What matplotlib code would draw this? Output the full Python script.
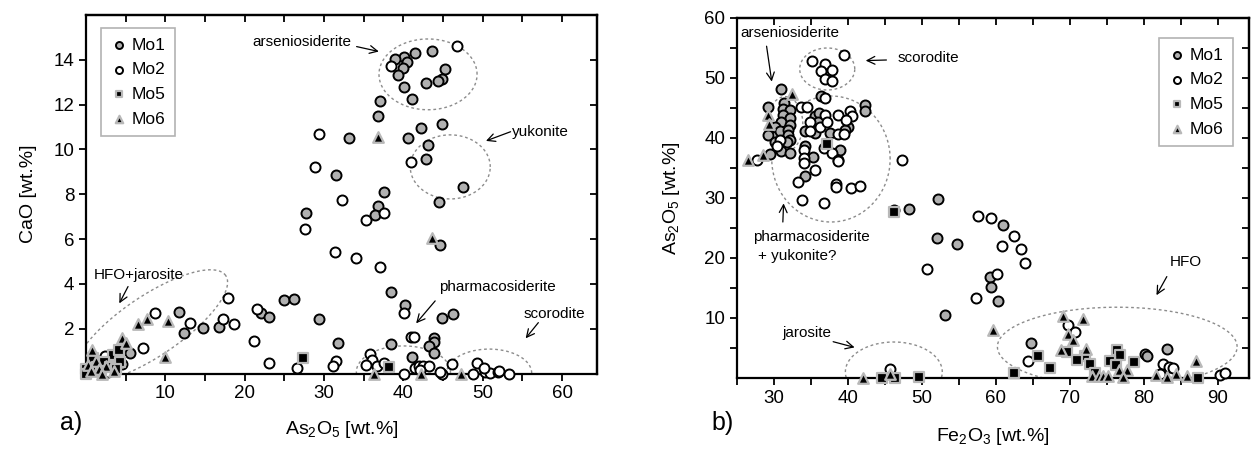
import numpy as np
import matplotlib.pyplot as plt
from matplotlib.ticker import MultipleLocator, FixedLocator

plt.rcParams['font.family'] = ['Liberation Sans', 'DejaVu Sans']
plt.rcParams['mathtext.fontset'] = 'custom'
plt.rcParams['mathtext.rm'] = 'Liberation Sans'
plt.rcParams['mathtext.it'] = 'Liberation Sans:italic'

#######################################################################################
# DATA  (a) CaO vs As2O5, (b) As2O5 vs Fe2O3, wt.%
#######################################################################################
a_mo1_x = [43.6, 41.5, 40.1, 38.9, 40.5, 39.9, 45.3, 39.3, 44.8, 44.4, 42.8, 40.1, 41.1, 37.1,
           36.8, 33.1, 40.6, 42.2, 44.8, 43.1, 42.8, 31.5, 47.5, 44.5, 37.5, 36.8, 36.4, 27.7,
           11.7, 12.4, 14.7, 16.7, 22.1, 23.1, 25.0, 26.2, 29.3, 31.7, 5.5, 44.6, 38.4, 40.2,
           44.9, 46.3, 43.8, 43.9, 43.2, 43.8, 38.4, 41.1, 0.3]
a_mo1_y = [14.41, 14.29, 14.14, 14.04, 13.89, 13.65, 13.58, 13.33, 13.13, 13.06, 12.96, 12.79,
           12.24, 12.18, 11.50, 10.51, 10.53, 10.97, 11.13, 10.19, 9.56, 8.86, 8.31, 7.66, 8.12,
           7.49, 7.08, 7.15, 2.76, 1.79, 2.04, 2.09, 2.69, 2.51, 3.28, 3.33, 2.45, 1.37, 0.90,
           5.74, 3.65, 3.06, 2.46, 2.66, 1.57, 1.42, 1.23, 0.90, 1.32, 0.75, 0.05]

a_mo2_x = [46.7, 38.4, 29.4, 28.8, 40.9, 32.2, 37.6, 35.3, 27.6, 31.4, 34.0, 8.7, 17.9, 13.1,
           17.3, 18.7, 21.5, 21.2, 23.1, 31.5, 31.1, 26.6, 7.2, 37.1, 40.1, 40.9, 41.3, 35.8,
           36.0, 35.3, 36.7, 37.6, 40.1, 44.8, 48.8, 50.3, 50.9, 51.9, 52.1, 53.3, 49.3, 50.2,
           46.1, 41.5, 41.9, 42.5, 43.2, 42.1, 44.6, 2.4, 4.6, 1.8, 2.8, 3.6]
a_mo2_y = [14.62, 13.73, 10.71, 9.23, 9.46, 7.75, 7.18, 6.85, 6.44, 5.41, 5.14, 2.71, 3.38, 2.24,
           2.45, 2.21, 2.87, 1.46, 0.48, 0.54, 0.33, 0.23, 1.12, 4.74, 2.71, 1.62, 1.62, 0.86,
           0.60, 0.38, 0.33, 0.48, 0.00, 0.00, 0.00, 0.07, 0.02, 0.08, 0.12, 0.00, 0.48, 0.26,
           0.41, 0.26, 0.35, 0.35, 0.35, 0.16, 0.08, 0.78, 0.42, 0.15, 0.05, 0.60]

a_mo5_x = [27.3, 38.2, 3.4, 4.1, 4.3, 0.9, 1.4, 2.3, 3.0, 0.0, 0.0, 3.8, 1.9]
a_mo5_y = [0.68, 0.30, 0.83, 1.05, 0.53, 0.68, 0.30, 0.50, 0.30, 0.20, 0.00, 0.20, 0.10]

a_mo6_x = [36.8, 43.6, 6.5, 7.7, 10.3, 10.0, 4.6, 5.1, 0.8, 36.3, 42.2, 47.2, 0.3, 1.2, 1.7,
           2.5, 3.5, 0.6, 2.0]
a_mo6_y = [10.57, 6.04, 2.21, 2.43, 2.34, 0.75, 1.57, 1.38, 1.05, 0.0, 0.0, 0.0, 0.40, 0.55,
           0.20, 0.35, 0.10, 0.10, 0.0]

b_mo1_x = [30.9, 36.4, 29.2, 31.3, 31.2, 32.2, 42.3, 42.3, 31.2, 32.2, 35.5, 36.1, 35.9, 31.0,
           32.2, 40.0, 39.6, 30.1, 29.2, 30.8, 31.9, 31.9, 32.1, 34.2, 35.5, 37.6, 30.1, 31.7,
           34.2, 38.9, 31.0, 32.2, 35.3, 29.4, 34.2, 48.2, 52.2, 60.9, 59.2, 59.4, 60.3, 52.0,
           54.7, 53.1, 64.8, 80.1, 80.4, 83.1]
b_mo1_y = [48.1, 47.0, 45.2, 45.8, 44.9, 44.7, 45.5, 44.5, 43.8, 43.3, 43.7, 44.2, 42.7, 42.7,
           42.2, 41.9, 41.3, 41.9, 40.5, 41.1, 41.3, 40.5, 39.7, 41.2, 40.8, 40.9, 39.4, 39.4,
           38.7, 38.0, 37.9, 37.5, 36.8, 37.3, 33.6, 28.1, 29.8, 25.5, 16.9, 15.1, 12.8, 23.3,
           22.3, 10.5, 5.9, 3.95, 3.7, 4.8]

b_mo2_x = [39.5, 35.1, 36.9, 37.9, 36.3, 36.9, 37.9, 36.9, 33.7, 34.4, 36.9, 38.7, 40.3, 40.5,
           34.9, 36.2, 37.1, 39.8, 34.9, 38.7, 39.4, 30.8, 34.0, 36.7, 37.8, 30.4, 34.0, 38.6,
           27.7, 47.3, 34.0, 38.7, 35.5, 33.3, 38.4, 38.4, 40.4, 41.6, 33.8, 36.8, 46.2, 57.6,
           59.4, 62.4, 60.8, 63.4, 63.9, 60.1, 57.3, 50.7, 64.3, 69.8, 70.7, 82.6, 83.4, 83.9,
           82.2, 90.3, 91.0, 45.7]
b_mo2_y = [53.9, 52.8, 52.4, 51.4, 51.2, 49.8, 49.5, 46.6, 45.2, 45.2, 43.8, 43.8, 44.5, 43.7,
           42.6, 41.9, 42.6, 43.0, 41.2, 40.7, 40.7, 39.7, 38.0, 38.4, 37.5, 38.6, 36.6, 36.4,
           36.4, 36.3, 35.8, 36.1, 34.6, 32.6, 32.3, 31.9, 31.7, 32.0, 29.7, 29.2, 28.0, 27.0,
           26.6, 23.6, 22.0, 21.5, 19.1, 17.4, 13.3, 18.1, 2.8, 8.8, 7.6, 2.4, 1.9, 1.6,
           0.7, 0.5, 0.8, 1.45]

b_mo5_x = [37.2, 46.2, 65.7, 67.3, 62.4, 69.6, 72.0, 70.9, 72.7, 73.4, 76.3, 76.8, 75.4, 76.2,
           78.6, 87.3, 44.6, 46.4, 49.6]
b_mo5_y = [39.0, 27.7, 3.7, 1.7, 0.9, 4.4, 3.7, 3.0, 2.4, 0.9, 4.7, 3.8, 2.8, 2.2,
           2.6, 0.05, 0.05, 0.05, 0.2]

b_mo6_x = [32.4, 29.2, 29.3, 28.5, 26.5, 59.6, 69.0, 71.8, 69.8, 70.4, 68.8, 72.2, 73.0, 73.9,
           74.5, 75.2, 76.7, 77.7, 77.2, 81.7, 83.1, 84.4, 85.8, 87.0, 42.0, 45.7]
b_mo6_y = [47.4, 43.8, 42.4, 37.2, 36.4, 8.0, 10.3, 9.8, 7.4, 6.4, 4.7, 4.9, 0.3, 0.3,
           0.3, 0.3, 1.3, 1.3, 0.2, 0.5, 0.2, 0.7, 0.3, 2.9, 0.0, 0.7]

series_names = ['Mo1', 'Mo2', 'Mo5', 'Mo6']

# mineral fields: centre, half-axis u, half-axis v (data units)
a_fields = [((43.1, 13.35), (6.18, 0), (0, 1.58)),
            ((45.9, 9.22), (5.04, 0), (0, 1.43)),
            ((40.0, 0.07), (5.93, 0), (0, 1.16)),
            ((50.8, 0.02), (5.36, 0), (0, 1.07)),
            ((8.2, 2.12), (9.41, 2.25), (-2.12, 1.11))]
b_fields = [((37.2, 51.5), (3.72, 0), (0, 3.5)),
            ((37.7, 36.5), (8.0, 0), (0, 10.5)),
            ((31.5, 42.3), (2.4, 0), (0, 4.6)),
            ((46.2, 1.0), (6.55, 0), (0, 5.0)),
            ((76.4, 5.2), (16.2, 0), (0, 6.6))]

# label, text position, arrow start, arrow tip
a_labels = [('arseniosiderite', (27.2, 14.8), (34.1, 14.59), (36.9, 14.37)),
            ('yukonite', (57.3, 10.78), (53.5, 10.79), (50.4, 10.38)),
            ('HFO+jarosite', (6.7, 4.40), (5.3, 3.88), (4.2, 3.13)),
            ('pharmacosiderite', (51.8, 3.88), (44.0, 3.24), (41.6, 2.24)),
            ('scorodite', (59.0, 2.66), (57.0, 2.27), (55.4, 1.57))]
b_labels = [('arseniosiderite', (32.2, 57.45), (29.0, 55.3), (29.7, 49.4)),
            ('scorodite', (50.9, 53.3), (45.2, 53.0), (42.4, 52.9)),
            ('pharmacosiderite', (35.1, 23.55), (31.2, 26.0), (31.3, 29.1)),
            ('+ yukonite?', (33.1, 20.3), None, None),
            ('jarosite', (34.4, 7.45), (38.0, 6.05), (40.9, 5.1)),
            ('HFO', (85.7, 19.4), (83.1, 16.9), (81.7, 13.8))]


def draw_points(ax, xs, ys):
    styles = [dict(marker='o', s=52, facecolor='#b0b0b0', edgecolor='black', linewidths=1.4),
              dict(marker='o', s=52, facecolor='white', edgecolor='black', linewidths=1.4),
              dict(marker='s', s=42, facecolor='black', edgecolor='#b8b8b8', linewidths=1.6),
              dict(marker='^', s=58, facecolor='black', edgecolor='#b8b8b8', linewidths=1.6)]
    for x, y, name, st in zip(xs, ys, series_names, styles):
        ax.scatter(x, y, label=name, clip_on=False, zorder=3, **st)


def draw_fields(ax, fields):
    t = np.linspace(0, 2 * np.pi, 300)
    for (cx, cy), (ux, uy), (vx, vy) in fields:
        ax.plot(cx + ux * np.cos(t) + vx * np.sin(t), cy + uy * np.cos(t) + vy * np.sin(t),
                color='#8c8c8c', lw=1.0, ls=(0, (2, 2)), zorder=2)


def draw_labels(ax, labels):
    for txt, pos, start, tip in labels:
        ax.text(pos[0], pos[1], txt, fontsize=11, ha='center', va='center', zorder=4)
        if start is not None:
            ax.annotate('', xy=tip, xytext=start,
                        arrowprops=dict(arrowstyle='->', color='black', lw=0.9,
                                        shrinkA=0, shrinkB=0, mutation_scale=14))


def set_frame(ax, xmaj, xmin, ymaj, ymin):
    for sp in ax.spines.values():
        sp.set_linewidth(1.6)
    ax.xaxis.set_major_locator(FixedLocator(xmaj))
    ax.xaxis.set_minor_locator(FixedLocator(xmin))
    ax.yaxis.set_major_locator(FixedLocator(ymaj))
    ax.yaxis.set_minor_locator(FixedLocator(ymin))
    ax.tick_params(which='both', labelsize=13.5, width=1.3, length=5, direction='out')
    # top and right: inward ticks, no labels
    top = ax.secondary_xaxis('top')
    top.xaxis.set_major_locator(FixedLocator(sorted(list(xmaj) + list(xmin))))
    top.tick_params(direction='in', length=5, width=1.3, labeltop=False)
    right = ax.secondary_yaxis('right')
    right.yaxis.set_major_locator(FixedLocator(sorted(list(ymaj) + list(ymin))))
    right.tick_params(direction='in', length=5, width=1.3, labelright=False)
    for sec in (top, right):
        for sp in sec.spines.values():
            sp.set_linewidth(1.6)


def legend(ax, loc, anchor):
    leg = ax.legend(loc=loc, bbox_to_anchor=anchor, fontsize=12.5, frameon=True, fancybox=False,
                    edgecolor='#a0a0a0', handletextpad=0.2, handlelength=1.0, labelspacing=0.55,
                    borderpad=0.55, markerscale=0.7, borderaxespad=0)
    leg.get_frame().set_linewidth(1.2)
    leg.set_zorder(5)


fig = plt.figure(figsize=(12.57, 4.5), dpi=100)

# ------------------------------------------------------------------ panel a
ax1 = fig.add_axes([0.0684, 0.170, 0.4066, 0.7967])
draw_fields(ax1, a_fields)
draw_points(ax1, [a_mo1_x, a_mo2_x, a_mo5_x, a_mo6_x], [a_mo1_y, a_mo2_y, a_mo5_y, a_mo6_y])
draw_labels(ax1, a_labels)
ax1.set_xlim(0, 64.4)
ax1.set_ylim(0, 16)
set_frame(ax1, [10, 20, 30, 40, 50, 60], [5, 15, 25, 35, 45, 55],
          [2, 4, 6, 8, 10, 12, 14], [])
ax1.set_xlabel('As$_2$O$_5$ [wt.%]', fontsize=14, labelpad=12)
ax1.set_ylabel('CaO [wt.%]', fontsize=14, labelpad=12)
legend(ax1, 'upper left', (0.029, 0.964))
fig.text(0.048, 0.045, 'a)', fontsize=18)

# ------------------------------------------------------------------ panel b
ax2 = fig.add_axes([0.5863, 0.160, 0.4073, 0.800])
draw_fields(ax2, b_fields)
draw_points(ax2, [b_mo1_x, b_mo2_x, b_mo5_x, b_mo6_x], [b_mo1_y, b_mo2_y, b_mo5_y, b_mo6_y])
draw_labels(ax2, b_labels)
ax2.set_xlim(25, 94.2)
ax2.set_ylim(0, 60)
set_frame(ax2, [30, 40, 50, 60, 70, 80, 90], [25, 35, 45, 55, 65, 75, 85],
          [10, 20, 30, 40, 50, 60], [5, 15, 25, 35, 45, 55])
ax2.set_xlabel('Fe$_2$O$_3$ [wt.%]', fontsize=14, labelpad=14)
ax2.set_ylabel('As$_2$O$_5$ [wt.%]', fontsize=14, labelpad=16)
legend(ax2, 'upper right', (0.968, 0.945))
fig.text(0.566, 0.045, 'b)', fontsize=18)

plt.savefig('out.png', dpi=100)
